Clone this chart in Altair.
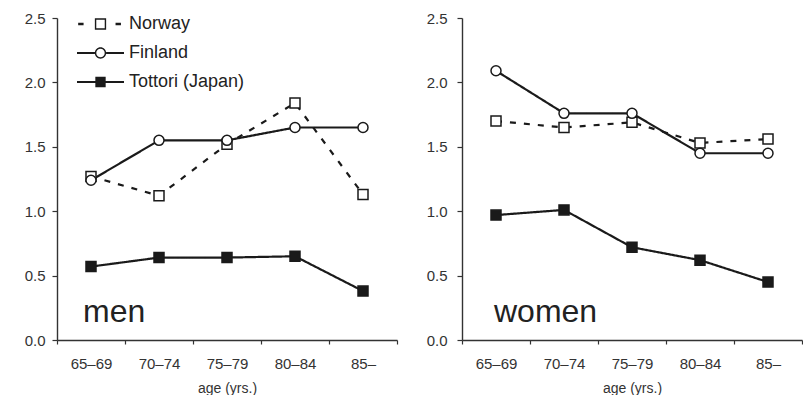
import altair as alt
import pandas as pd

ages = ["65–69", "70–74", "75–79", "80–84", "85–"]
series_names = ["Norway", "Finland", "Tottori (Japan)"]
men_norway = [1.27, 1.12, 1.52, 1.84, 1.13]
men_finland = [1.24, 1.55, 1.55, 1.65, 1.65]
men_tottori = [0.57, 0.64, 0.64, 0.65, 0.38]
women_norway = [1.70, 1.65, 1.69, 1.53, 1.56]
women_finland = [2.09, 1.76, 1.76, 1.45, 1.45]
women_tottori = [0.97, 1.01, 0.72, 0.62, 0.45]
y_ticks = [0.0, 0.5, 1.0, 1.5, 2.0, 2.5]
panel_labels = ["men", "women"]

markers = {"Norway": "square", "Finland": "circle", "Tottori (Japan)": "square"}
fills = {"Norway": "white", "Finland": "white", "Tottori (Japan)": "#1a1a1a"}

rows = []
for sex, vals in [("men", [men_norway, men_finland, men_tottori]),
                  ("women", [women_norway, women_finland, women_tottori])]:
    for name, v in zip(series_names, vals):
        for a, val in zip(ages, v):
            rows.append({"sex": sex, "series": name, "age": a, "value": val,
                         "marker": markers[name], "fillcol": fills[name]})
df = pd.DataFrame(rows)

INK = "#1a1a1a"
FONT = "Liberation Sans"

# legend glyphs drawn entirely with fill (rings made with opposite winding)
legend_paths = [
    "M-0.95,-0.05H-0.72V0.05H-0.95Z M0.64,-0.05H0.87V0.05H0.64Z "
    "M-0.24,-0.24H0.24V0.24H-0.24Z M-0.18,-0.18V0.18H0.18V-0.18Z",
    "M-1,-0.045H-0.24V0.045H-1Z M0.24,-0.045H1V0.045H0.24Z "
    "M0.24,0A0.24,0.24,0,1,1,-0.24,0A0.24,0.24,0,1,1,0.24,0Z "
    "M0.18,0A0.18,0.18,0,1,0,-0.18,0A0.18,0.18,0,1,0,0.18,0Z",
    "M-1,-0.045H1V0.045H-1Z M-0.22,-0.22H0.22V0.22H-0.22Z",
]


def panel(sex, label, text_x, with_legend, y_label_pad):
    base = alt.Chart(df).transform_filter(alt.datum.sex == sex)
    x = alt.X("age:N", sort=ages,
              scale=alt.Scale(domain=ages, paddingInner=0, paddingOuter=0),
              axis=alt.Axis(title="age (yrs.)", labelAngle=0, tickBand="extent",
                            tickSize=4, labelPadding=12, titlePadding=10,
                            labelFontSize=15, titleFontSize=14,
                            titleFontWeight="normal"))
    y = alt.Y("value:Q", scale=alt.Scale(domain=[0, 2.5], nice=False),
              axis=alt.Axis(title=None, values=y_ticks, format=".1f", grid=False,
                            tickSize=5, labelPadding=y_label_pad, minExtent=52,
                            labelFontSize=15))
    lines = base.mark_line(color=INK, strokeWidth=2.2).encode(
        x=x, y=y,
        detail="series:N",
        strokeDash=alt.StrokeDash("series:N",
                                  scale=alt.Scale(domain=series_names,
                                                  range=[[6, 8], [1, 0], [1, 0]]),
                                  legend=None),
    )
    points = base.mark_point(size=100, stroke=INK, strokeWidth=1.5, opacity=1).encode(
        x=x, y=y,
        shape=alt.Shape("marker:N", scale=None),
        fill=alt.Fill("fillcol:N", scale=None),
    )
    txt = alt.Chart(pd.DataFrame({"label": [label]})).mark_text(
        align="left", baseline="alphabetic", fontSize=32, font=FONT, color="#222"
    ).encode(text="label:N", x=alt.value(text_x), y=alt.value(304))
    layers = [lines, points, txt]
    if with_legend:
        leg = alt.Legend(title=None, orient="none", legendX=20, legendY=-4,
                         symbolSize=2209, symbolStrokeWidth=0,
                         symbolFillColor=INK, clipHeight=20,
                         labelFontSize=18, labelFont=FONT,
                         labelColor="#222", rowPadding=9, labelOffset=5,
                         padding=0)
        legend_layer = alt.Chart(df).transform_filter("false").mark_point(
            filled=True, color=INK, opacity=1, strokeWidth=0).encode(
            shape=alt.Shape("series:N",
                            scale=alt.Scale(domain=series_names, range=legend_paths),
                            legend=leg),
        )
        layers.append(legend_layer)
    out = alt.layer(*layers).properties(width=340, height=322)
    if with_legend:
        out = out.resolve_scale(shape="independent")
    return out


chart = alt.hconcat(
    panel("men", panel_labels[0], 26, True, 7),
    panel("women", panel_labels[1], 32, False, 10),
    spacing=12,
).properties(
    padding={"left": 5, "right": 0, "top": 11, "bottom": 0},
    background="white",
).configure_view(stroke=None).configure_axis(
    domainColor="#333", domainWidth=1.4, tickColor="#333", tickWidth=1.2,
    labelColor="#333", titleColor="#333", labelFont=FONT, titleFont=FONT,
)

chart.save("out.html", embed_options={"renderer": "svg", "actions": False})
